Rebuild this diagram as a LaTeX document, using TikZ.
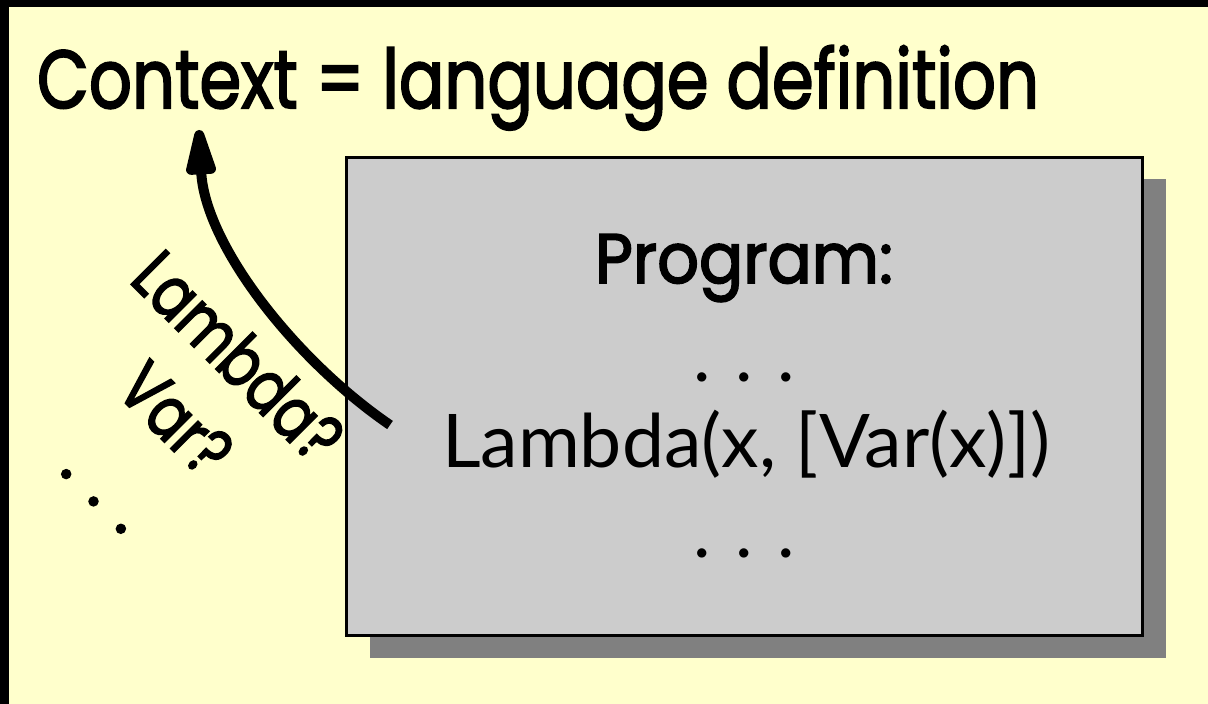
\documentclass[tikz,border=0pt]{standalone}
\usepackage{fontspec}
\usepackage{graphicx}
\usetikzlibrary{arrows.meta,shadows}
\newfontfamily\geofont{Poppins}[UprightFeatures={FakeBold=2.5}]
\newfontfamily\humfont{Lato}
\definecolor{paper}{HTML}{FFFFCC}
\definecolor{boxgray}{HTML}{CCCCCC}
\definecolor{shadowgray}{HTML}{808080}
% evenly spread ellipsis dots
\newcommand\spreaddots[1]{.\hspace{#1}.\hspace{#1}.}
% narrower set for the rotated labels
\newcommand\narrow[1]{\scalebox{0.8}[1]{#1}}
\tikzset{
  txt/.style={inner sep=0pt, outer sep=0pt},
  headfont/.style={font=\geofont\fontsize{41}{50}\selectfont},
  progbox/.style={draw=black, line width=1.5pt, fill=boxgray,
    minimum width=398pt, minimum height=239pt, inner sep=0pt,
    drop shadow={shadow xshift=11.5pt, shadow yshift=-11pt,
      fill=shadowgray, opacity=1}},
  codefont/.style={font=\humfont\fontsize{37}{44}\selectfont},
  askfont/.style={font=\geofont\fontsize{35}{44}\selectfont},
  bigarrow/.style={line width=5pt,
    -{Triangle[length=30pt,width=15pt,round]}}
}
\begin{document}
\begin{tikzpicture}[x=0.5pt,y=-0.5pt]
\useasboundingbox (0,0) rectangle (1208,704);
% frame and background
\fill[black] (0,0) rectangle (1208,704);
\fill[paper] (9,7) rectangle (1208,704);

% title
\node[txt, headfont, anchor=base west] (title) at (37,108)
  {\resizebox{501pt}{\height}{Context = language definition}};

% program box
\node[progbox] (prog) at (744.5,396.5) {};
\node[txt, font=\geofont\fontsize{35}{44}\selectfont, anchor=base] (heading) at (744,283)
  {\resizebox{149pt}{\height}{Program:}};
\node[txt, codefont, anchor=base] (dtop) at (744,381.5) {\spreaddots{12.3pt}};
\node[txt, codefont, anchor=base] (code) at (746,468)
  {\resizebox{304pt}{\height}{Lambda(x, [Var(x)])}};
\node[txt, codefont, anchor=base] (dbot) at (744,558) {\spreaddots{12.3pt}};

% questions along the arrow
\node[txt, askfont, rotate=-45, align=center] (ask) at (174,421)
  {\narrow{Lambda?}\\\narrow{Var?}\\[4pt]\spreaddots{12pt}};

% lookup arrow
\coordinate (src) at (390,425);
\coordinate (dst) at (199,130);
\draw[bigarrow] (src) .. controls (295,360) and (205,245) .. (dst);
\end{tikzpicture}
\end{document}
